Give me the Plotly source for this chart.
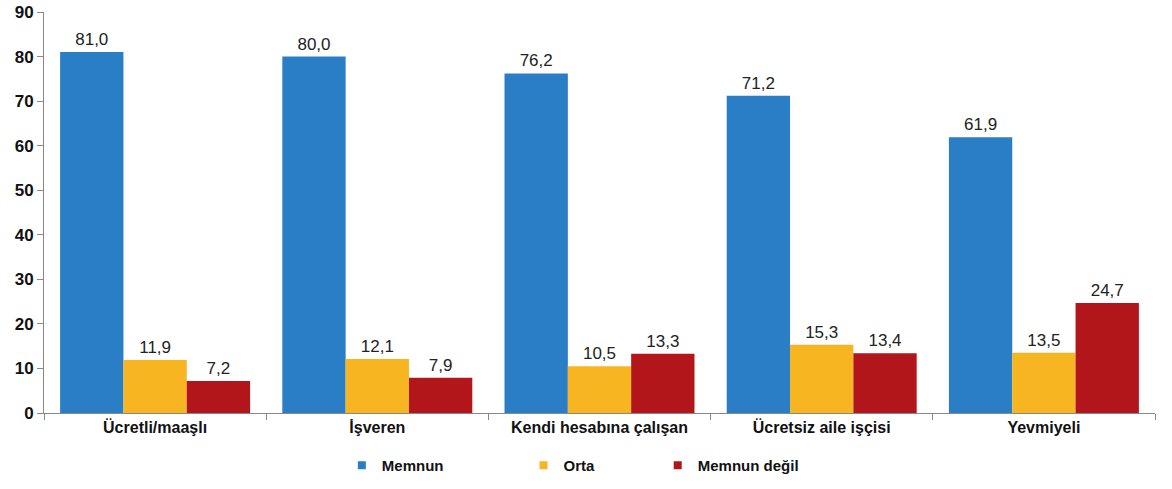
import plotly.graph_objects as go

categories = ["Ücretli/maaşlı", "İşveren", "Kendi hesabına çalışan", "Ücretsiz aile işçisi", "Yevmiyeli"]
memnun = [81.0, 80.0, 76.2, 71.2, 61.9]
orta = [11.9, 12.1, 10.5, 15.3, 13.5]
memnun_degil = [7.2, 7.9, 13.3, 13.4, 24.7]
y_ticks = [0, 10, 20, 30, 40, 50, 60, 70, 80, 90]

series = [
    ("Memnun", memnun, "#2A7EC6", 18),
    ("Orta", orta, "#F8B522", 14),
    ("Memnun değil", memnun_degil, "#B3161A", 0),
]

FONT = "Liberation Sans, Arial"
NBSP = "\u00a0"

fig = go.Figure()
for name, vals, color, pad in series:
    fig.add_trace(go.Bar(
        x=categories,
        y=vals,
        name=name,
        showlegend=False,
        marker=dict(color=color, line=dict(width=0)),
        text=[f"{v:.1f}".replace(".", ",") for v in vals],
        textposition="outside",
        textfont=dict(family=FONT, size=17, color="#222"),
        cliponaxis=False,
    ))
    # legend-only entries with small square symbols (nbsp padding spaces the items)
    fig.add_trace(go.Scatter(
        x=[None], y=[None], mode="markers", name=name + NBSP * pad,
        marker=dict(symbol="square", size=8, color=color),
    ))

fig.update_layout(
    barmode="group",
    bargap=0.145,
    bargroupgap=0,
    width=1172,
    height=489,
    margin=dict(l=44, r=17, t=12, b=76, autoexpand=False),
    plot_bgcolor="white",
    paper_bgcolor="white",
    font=dict(family=FONT, size=14, color="#111"),
    xaxis=dict(
        automargin=False,
        showline=True, linecolor="#888", linewidth=1,
        ticks="outside", tickson="boundaries", ticklen=6, tickcolor="#888",
        tickfont=dict(size=16, family=FONT, weight="bold"),
    ),
    yaxis=dict(
        automargin=False,
        range=[0, 90], tickvals=y_ticks,
        ticklabeloverflow="allow",
        showline=True, linecolor="#888", linewidth=1,
        ticks="outside", ticklen=6, tickcolor="#888",
        showgrid=False, zeroline=False,
        tickfont=dict(size=17, family=FONT, weight="bold"),
    ),
    legend=dict(
        orientation="h", x=0.476, xanchor="center", y=-0.09, yanchor="top",
        font=dict(size=15, family=FONT, weight="bold"),
        itemwidth=30,
    ),
    showlegend=True,
)

# drop the default 8px page margin so the figure sits at the window corner
fig.write_html(
    "out.html",
    config={"displayModeBar": False},
    post_script="document.body.style.margin='0';",
)
